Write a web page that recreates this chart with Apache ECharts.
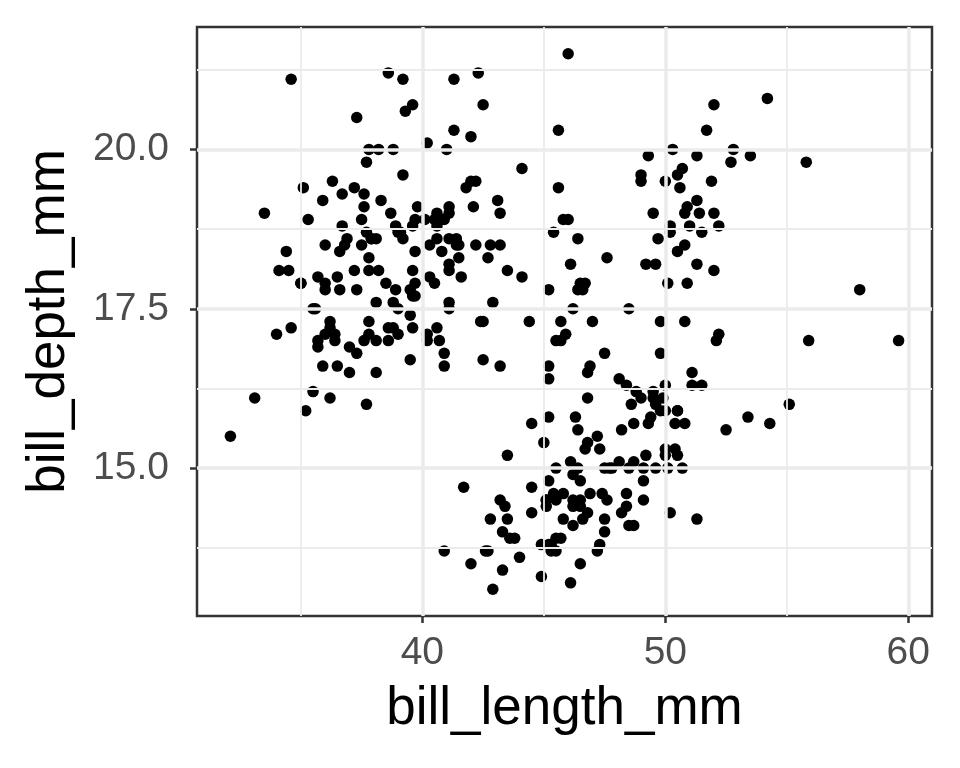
<!DOCTYPE html>
<html>
<head>
<meta charset="utf-8">
<script src="https://cdn.jsdelivr.net/npm/echarts@6/dist/echarts.min.js"></script>
<style>html,body{margin:0;padding:0;background:#fff}#c{width:960px;height:768px}</style>
</head>
<body>
<div id="c"></div>
<script>
// [bill_length_mm, bill_depth_mm]
var adelie = [[39.1,18.7],[39.5,17.4],[40.3,18.0],[36.7,19.3],[39.3,20.6],[38.9,17.8],[39.2,19.6],[34.1,18.1],[42.0,20.2],[37.8,17.1],[37.8,17.3],[41.1,17.6],[38.6,21.2],[34.6,21.1],[36.6,17.8],[38.7,19.0],[42.5,20.7],[34.4,18.4],[46.0,21.5],[37.8,18.3],[37.7,18.7],[35.9,19.2],[38.2,18.1],[38.8,17.2],[35.3,18.9],[40.6,18.6],[40.5,17.9],[37.9,18.6],[40.5,18.9],[39.5,16.7],[37.2,18.1],[39.5,17.8],[40.9,18.9],[36.4,17.0],[39.2,21.1],[38.8,20.0],[42.2,18.5],[37.6,19.3],[39.8,19.1],[36.5,18.0],[40.8,18.4],[36.0,18.5],[44.1,19.7],[37.0,16.9],[39.6,18.8],[41.1,19.0],[37.5,18.9],[36.0,17.9],[42.3,21.2],[39.6,17.7],[40.1,18.9],[35.0,17.9],[42.0,19.5],[34.5,18.1],[41.4,18.6],[39.0,17.5],[40.6,18.8],[36.5,16.6],[37.6,19.1],[35.7,16.9],[41.3,21.1],[37.6,17.0],[41.1,18.2],[36.4,17.1],[41.6,18.0],[35.5,16.2],[41.1,19.1],[35.9,16.6],[41.8,19.4],[33.5,19.0],[39.7,18.4],[39.6,17.2],[45.8,18.9],[35.5,17.5],[42.8,18.5],[40.9,16.8],[37.2,19.4],[36.2,16.1],[42.1,19.1],[34.6,17.2],[42.9,17.6],[36.7,18.8],[35.1,19.4],[37.3,17.8],[41.3,20.3],[36.3,19.5],[36.9,18.6],[38.3,19.2],[38.9,18.8],[35.7,18.0],[41.1,18.1],[34.0,17.1],[39.6,18.1],[36.2,17.3],[40.8,18.9],[38.1,18.6],[40.3,18.5],[33.1,16.1],[43.2,18.5],[35.0,17.9],[41.0,20.0],[37.7,16.0],[37.8,20.0],[37.9,18.6],[39.7,18.9],[38.6,17.2],[38.2,20.0],[38.1,17.0],[43.2,19.0],[38.1,16.5],[45.6,20.3],[39.7,17.7],[42.2,19.5],[39.6,20.7],[42.7,18.3],[38.6,17.0],[37.3,20.5],[35.7,17.0],[41.1,18.6],[36.2,17.2],[37.7,19.8],[40.2,17.0],[41.4,18.5],[35.2,15.9],[40.6,19.0],[38.8,17.6],[41.5,18.3],[39.0,17.1],[44.1,18.0],[38.5,17.9],[43.1,19.2],[36.8,18.5],[37.5,18.5],[38.1,17.6],[41.1,17.5],[35.6,17.5],[40.2,20.1],[37.0,16.5],[39.7,17.9],[40.2,17.1],[40.6,17.2],[32.1,15.5],[40.7,17.0],[37.3,16.8],[39.0,18.7],[39.2,18.6],[36.6,18.4],[36.0,17.8],[37.8,18.1],[36.0,17.1],[41.5,18.5]];
var gentoo = [[46.1,13.2],[50.0,16.3],[48.7,14.1],[50.0,15.2],[47.6,14.5],[46.5,13.5],[45.4,14.6],[46.7,15.3],[43.3,13.4],[46.8,15.4],[40.9,13.7],[49.0,16.1],[45.5,13.7],[48.4,14.6],[45.8,14.6],[49.3,15.7],[42.0,13.5],[49.2,15.2],[46.2,14.5],[48.7,15.1],[50.2,14.3],[45.1,14.5],[46.5,14.5],[46.3,15.8],[42.9,13.1],[46.1,15.1],[44.5,14.3],[47.8,15.0],[48.2,14.3],[50.0,15.3],[47.3,15.3],[42.8,14.2],[45.1,14.5],[59.6,17.0],[49.1,14.8],[48.4,16.3],[42.6,13.7],[44.4,17.3],[44.0,13.6],[48.7,15.7],[42.7,13.7],[49.6,16.0],[45.3,13.7],[49.6,15.0],[50.5,15.9],[43.6,13.9],[45.5,13.9],[50.5,15.9],[44.9,13.3],[45.2,15.8],[46.6,14.2],[48.5,14.1],[45.1,14.4],[50.1,15.0],[46.5,14.4],[45.0,15.4],[43.8,13.9],[45.5,15.0],[43.2,14.5],[50.4,15.3],[45.3,13.8],[46.2,14.9],[45.7,13.9],[54.3,15.7],[45.8,14.2],[49.8,16.8],[46.2,14.4],[49.5,16.2],[43.5,14.2],[50.7,15.0],[47.7,15.0],[46.4,15.6],[48.2,15.6],[46.5,14.8],[46.4,15.0],[48.6,16.0],[47.5,14.2],[51.1,16.3],[45.2,13.8],[45.2,16.4],[49.1,14.5],[52.5,15.6],[47.4,14.6],[50.0,15.9],[44.9,13.8],[50.8,17.3],[43.4,14.4],[51.3,14.2],[47.5,14.0],[52.1,17.0],[47.5,15.0],[52.2,17.1],[45.5,14.5],[49.5,16.1],[44.5,14.7],[50.8,15.7],[49.4,15.8],[46.9,14.6],[48.4,14.4],[51.1,16.5],[48.5,15.0],[55.9,17.0],[47.2,15.5],[49.1,15.0],[47.3,13.8],[46.8,16.1],[41.7,14.7],[53.4,15.8],[43.3,14.0],[48.1,15.1],[50.5,15.2],[49.8,15.9],[43.5,15.2],[51.5,16.3],[46.2,14.1],[55.1,16.0],[44.5,15.7],[48.8,16.2],[47.2,13.7],[46.8,14.3],[50.4,15.7],[45.2,14.8],[49.9,16.1]];
var chinstrap = [[46.5,17.9],[50.0,19.5],[51.3,19.2],[45.4,18.7],[52.7,19.8],[45.2,17.8],[46.1,18.2],[51.3,18.2],[46.0,18.9],[51.3,19.9],[46.6,17.8],[51.7,20.3],[47.0,17.3],[52.0,18.1],[45.9,17.1],[50.5,19.6],[50.3,20.0],[58.0,17.8],[46.4,18.6],[49.2,18.2],[42.4,17.3],[48.5,17.5],[43.2,16.6],[50.6,19.4],[46.7,17.9],[52.0,19.0],[50.5,18.4],[49.5,19.0],[46.4,17.8],[52.8,20.0],[40.9,16.6],[54.2,20.8],[42.5,16.7],[51.0,18.8],[49.7,18.6],[47.5,16.8],[47.6,18.3],[52.0,20.7],[46.9,16.6],[53.5,19.9],[49.0,19.5],[46.2,17.5],[50.9,19.1],[45.5,17.0],[50.9,17.9],[50.8,18.5],[50.1,17.9],[49.0,19.6],[51.5,18.7],[49.8,17.3],[48.1,16.4],[51.4,19.0],[45.7,17.3],[50.7,19.7],[42.5,17.3],[52.2,18.8],[45.2,16.6],[49.3,19.9],[50.2,18.8],[45.6,19.4],[51.9,19.5],[46.8,16.5],[45.7,17.0],[55.8,19.8],[43.5,18.1],[49.6,18.2],[50.8,19.0],[50.2,18.7]];

var xMajor = [40, 50, 60];
var xMinor = [35, 45, 55];
var yMajor = [15, 17.5, 20];
var yMinor = [13.75, 16.25, 18.75, 21.25];

var FONT = '"Liberation Sans", Arial, sans-serif';
var allPoints = adelie.concat(gentoo, chinstrap);

function vlines(vals, w) {
  return vals.map(function (v) { return { xAxis: v, lineStyle: { color: '#EBEBEB', width: w, type: 'solid' } }; });
}
function hlines(vals, w) {
  return vals.map(function (v) { return { yAxis: v, lineStyle: { color: '#EBEBEB', width: w, type: 'solid' } }; });
}

var chart = echarts.init(document.getElementById('c'), null, { renderer: 'canvas' });
chart.setOption({
  animation: false,
  backgroundColor: '#ffffff',
  textStyle: { fontFamily: FONT },
  grid: { left: 197, right: 28, top: 27, bottom: 152, show: true, borderColor: '#333333', borderWidth: 2.5, backgroundColor: 'transparent' },
  xAxis: {
    type: 'value', min: 30.725, max: 60.975,
    splitLine: { show: false },
    axisLine: { show: false },
    axisTick: { show: true, customValues: xMajor, length: 7, lineStyle: { color: '#333333', width: 2.5 } },
    axisLabel: { customValues: xMajor, fontSize: 39, color: '#4D4D4D', margin: 18, fontFamily: FONT },
    name: 'bill_length_mm', nameLocation: 'middle', nameGap: 67,
    nameTextStyle: { fontSize: 53, color: '#000000', fontFamily: FONT }
  },
  yAxis: {
    type: 'value', min: 12.68, max: 21.92,
    splitLine: { show: false },
    axisLine: { show: false },
    axisTick: { show: true, customValues: yMajor, length: 7, lineStyle: { color: '#333333', width: 2.5 } },
    axisLabel: { customValues: yMajor, fontSize: 39, color: '#4D4D4D', margin: 28, fontFamily: FONT,
      formatter: function (v) { return v.toFixed(1); } },
    name: 'bill_depth_mm', nameLocation: 'middle', nameGap: 121, nameRotate: 90,
    nameTextStyle: { fontSize: 53, color: '#000000', fontFamily: FONT }
  },
  series: [
    {
      type: 'scatter', data: [], z: 1, silent: true,
      markLine: { silent: true, symbol: ['none', 'none'], label: { show: false }, animation: false,
        data: vlines(xMinor, 1.8).concat(hlines(yMinor, 1.8), vlines(xMajor, 3.5), hlines(yMajor, 3.5)) }
    },
    {
      type: 'scatter', data: allPoints, z: 3, symbolSize: 11.5,
      itemStyle: { color: '#000000', opacity: 1 }
    }
  ]
});
</script>
</body>
</html>
